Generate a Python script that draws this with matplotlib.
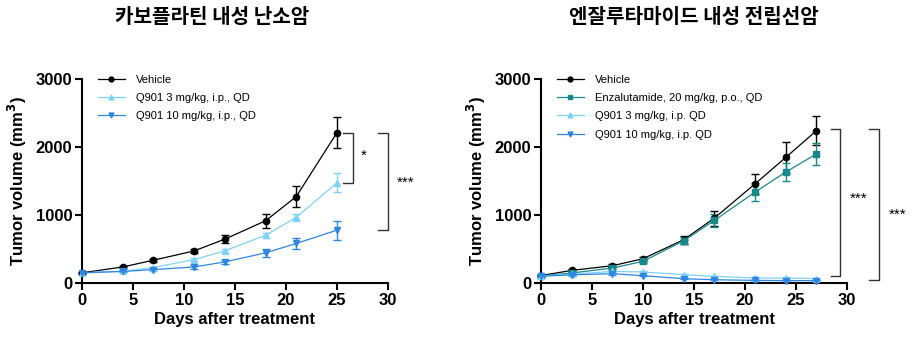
import matplotlib.pyplot as plt
from matplotlib.lines import Line2D

plt.rcParams['font.family'] = ['Liberation Sans', 'Noto Sans CJK KR', 'DejaVu Sans']

# Carboplatin-resistant ovarian cancer
days_a = [0, 4, 7, 11, 14, 18, 21, 25]
veh_a = [150, 236, 335, 472, 645, 915, 1270, 2212]
veh_a_err = [15, 20, 25, 30, 60, 100, 150, 225]
q3_a = [150, 173, 227, 345, 472, 703, 964, 1475]
q3_a_err = [10, 15, 15, 20, 25, 35, 50, 140]
q10_a = [150, 170, 197, 236, 310, 443, 581, 777]
q10_a_err = [10, 15, 15, 25, 30, 60, 80, 140]

# Enzalutamide-resistant prostate cancer
days_b = [0, 3, 7, 10, 14, 17, 21, 24, 27]
veh_b = [110, 185, 254, 357, 637, 955, 1460, 1847, 2240]
veh_b_err = [15, 20, 25, 30, 60, 110, 145, 230, 215]
enz_b = [105, 147, 220, 318, 622, 920, 1338, 1632, 1897]
enz_b_err = [15, 15, 20, 25, 50, 90, 130, 130, 160]
q3_b = [100, 130, 170, 162, 122, 98, 73, 73, 65]
q3_b_err = [10, 10, 15, 15, 12, 10, 8, 8, 8]
q10_b = [100, 120, 137, 107, 63, 48, 38, 35, 35]
q10_b_err = [10, 10, 12, 10, 8, 6, 5, 5, 5]

BLACK = '#000000'
LIGHT = '#7fd3f7'
BLUE = '#2f86e0'
TEAL = '#17898a'

fig = plt.figure(figsize=(9.16, 3.47), dpi=100)
ax1 = fig.add_axes([82 / 916, 1 - 283 / 347, 306 / 916, 204 / 347])
ax2 = fig.add_axes([541 / 916, 1 - 283 / 347, 306 / 916, 204 / 347])


def series(ax, x, y, err, color, marker, label, ms=4.5, lw=0.9):
    ax.errorbar(x, y, yerr=err, color=color, marker=marker, ms=ms, lw=lw,
                elinewidth=1.0, capsize=3, capthick=1.0,
                clip_on=False, zorder=3)
    return Line2D([], [], color=color, marker=marker, ms=3.5, lw=lw, label=label)


def style(ax, handles):
    for s in ['top', 'right']:
        ax.spines[s].set_visible(False)
    for s in ['left', 'bottom']:
        ax.spines[s].set_linewidth(1.5)
    ax.set_xlim(0, 30)
    ax.set_ylim(0, 3000)
    ax.set_xticks([0, 5, 10, 15, 20, 25, 30])
    ax.set_yticks([0, 1000, 2000, 3000])
    ax.tick_params(width=1.5, length=5, labelsize=12, pad=2)
    for t in ax.get_xticklabels() + ax.get_yticklabels():
        t.set_fontweight('bold')
    ax.set_xlabel('Days after treatment', fontsize=12, fontweight='bold', labelpad=3)
    ax.set_ylabel('Tumor volume (mm$^\\mathbf{3}$)', fontsize=12, fontweight='bold', labelpad=5)
    ax.legend(handles=handles, loc='upper left', bbox_to_anchor=(0.02, 1.07), frameon=False,
              fontsize=8, handlelength=2.4, labelspacing=0.75, handletextpad=1.0)


def bracket(ax, x0, x1, y0, y1, text, tx, ty):
    ax.plot([x0, x1, x1, x0], [y0, y0, y1, y1], color='#333333', lw=1.0,
            clip_on=False)
    ax.text(tx, ty, text, fontsize=11, ha='center', va='center', clip_on=False)


h1 = [
    series(ax1, days_a, veh_a, veh_a_err, BLACK, 'o', 'Vehicle'),
    series(ax1, days_a, q3_a, q3_a_err, LIGHT, '^', 'Q901 3 mg/kg, i.p., QD'),
    series(ax1, days_a, q10_a, q10_a_err, BLUE, 'v', 'Q901 10 mg/kg, i.p., QD'),
]
style(ax1, h1)
bracket(ax1, 25.6, 26.6, veh_a[-1], q3_a[-1], '*', 27.6, 1870)
bracket(ax1, 29.0, 30.0, veh_a[-1], q10_a[-1], '***', 31.7, 1470)
ax1.set_title('카보플라틴 내성 난소암', fontsize=14.5, fontweight='bold',
              family=['Noto Sans CJK KR'], pad=40, x=0.425)

h2 = [
    series(ax2, days_b, veh_b, veh_b_err, BLACK, 'o', 'Vehicle'),
    series(ax2, days_b, enz_b, enz_b_err, TEAL, 's', 'Enzalutamide, 20 mg/kg, p.o., QD'),
    series(ax2, days_b, q3_b, q3_b_err, LIGHT, '^', 'Q901 3 mg/kg, i.p. QD'),
    series(ax2, days_b, q10_b, q10_b_err, BLUE, 'v', 'Q901 10 mg/kg, i.p. QD'),
]
style(ax2, h2)
bracket(ax2, 28.4, 29.3, 2270, q3_b[-1] + 40, '***', 31.1, 1240)
bracket(ax2, 32.2, 33.1, 2270, q10_b[-1] + 15, '***', 35.0, 1000)
ax2.set_title('엔잘루타마이드 내성 전립선암', fontsize=14.5, fontweight='bold',
              family=['Noto Sans CJK KR'], pad=40)

fig.savefig('out.png', dpi=100)
